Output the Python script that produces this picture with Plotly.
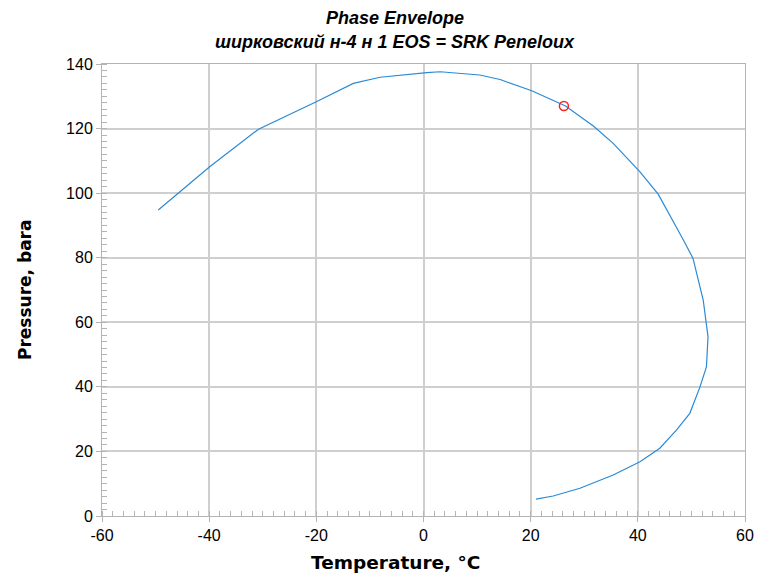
import plotly.graph_objects as go

temperature_c = [-49.5, -39.9, -30.8, -20.0, -13.1, -8.1, 0.6, 3.1, 10.5, 14.3, 20.2, 26.5,
                 31.7, 35.4, 40.4, 43.8, 48.5, 50.3, 52.2, 53.1, 52.8, 51.6, 49.7, 47.2,
                 44.1, 40.4, 35.4, 29.2, 24.2, 21.0]
pressure_bara = [94.8, 108.2, 119.8, 128.3, 134.0, 135.9, 137.3, 137.6, 136.6, 135.2, 131.7, 127.0,
                 120.8, 115.4, 106.6, 99.7, 85.5, 79.8, 66.9, 55.5, 46.2, 40.0, 31.8, 26.6,
                 21.0, 16.8, 12.7, 8.6, 6.2, 5.2]
crit_t = [26.2]
crit_p = [127.0]

x_ticks = [-60, -40, -20, 0, 20, 40, 60]
x_tick_labels = ["-60", "-40", "-20", "0", "20", "40", "60"]
y_ticks = [0, 20, 40, 60, 80, 100, 120, 140]
y_tick_labels = ["0", "20", "40", "60", "80", "100", "120", "140"]

title_line1 = "Phase Envelope"
title_line2 = "ширковский н-4 н 1 EOS = SRK Peneloux"
x_title = "Temperature, °C"
y_title = "Pressure, bara"

fig = go.Figure()
fig.add_trace(go.Scatter(x=temperature_c, y=pressure_bara, mode="lines",
                         line=dict(color="#2a8ad6", width=1.2), showlegend=False))
fig.add_trace(go.Scatter(x=crit_t, y=crit_p, mode="markers",
                         marker=dict(symbol="circle-open", size=9, color="#ff2020",
                                     line=dict(width=1.5, color="#ff2020")),
                         showlegend=False))

tickfont = dict(family="Liberation Sans, Arial", size=16, color="#000")
axis_common = dict(showline=True, linecolor="#b4b4b4", linewidth=1, mirror=True,
                   showgrid=True, gridcolor="#cfcfcf", gridwidth=2, zeroline=False,
                   ticks="outside", ticklen=5, tickcolor="#b4b4b4", tickfont=tickfont,
                   automargin=False)

fig.update_layout(
    width=760, height=573,
    margin=dict(l=102, r=15, t=64, b=57),
    paper_bgcolor="white", plot_bgcolor="white",
    hovermode=False,
    xaxis=dict(range=[-60, 60], tickvals=x_ticks, ticktext=x_tick_labels,
               minor=dict(dtick=2, ticks="inside", ticklen=5, tickcolor="#b4b4b4", showgrid=False),
               **axis_common),
    yaxis=dict(range=[0, 140], tickvals=y_ticks, ticktext=y_tick_labels,
               minor=dict(dtick=2, ticks="inside", ticklen=5, tickcolor="#b4b4b4", showgrid=False),
               **axis_common),
)

title_font = dict(family="Liberation Sans, Arial", size=18, color="#000")
axis_title_font = dict(family="DejaVu Sans", size=17, color="#000")
fig.add_annotation(text="<b><i>%s</i></b>" % title_line1, xref="paper", yref="paper",
                   x=0.4557, y=1.1018, xanchor="center", yanchor="middle",
                   showarrow=False, font=title_font)
fig.add_annotation(text="<b><i>%s</i></b>" % title_line2, xref="paper", yref="paper",
                   x=0.4557, y=1.0487, xanchor="center", yanchor="middle",
                   showarrow=False, font=title_font)
fig.add_annotation(text="<b>%s</b>" % x_title, xref="paper", yref="paper",
                   x=0.4565, y=-0.1018, xanchor="center", yanchor="middle",
                   showarrow=False, font=dict(family="DejaVu Sans", size=18.5, color="#000"))
fig.add_annotation(text="<b>%s</b>" % y_title, xref="paper", yref="paper",
                   x=-0.1197, y=0.5, xanchor="center", yanchor="middle", textangle=-90,
                   showarrow=False, font=axis_title_font)

fig.write_html("out.html", config={"displayModeBar": False},
               post_script="document.body.style.margin='0';")
